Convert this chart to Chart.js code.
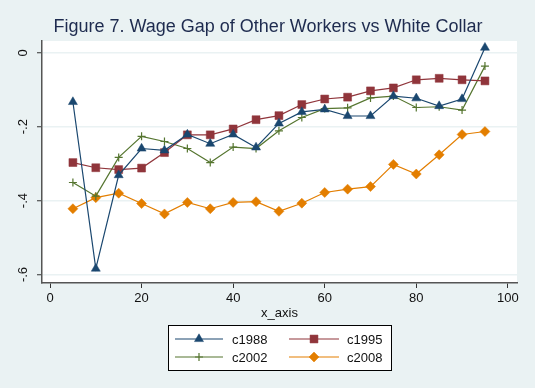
<!DOCTYPE html>
<html><head><meta charset="utf-8">
<script src="https://cdn.jsdelivr.net/npm/chart.js@4/dist/chart.umd.min.js"></script>
<style>html,body{margin:0;padding:0;background:#EAF2F3;}#wrap{width:535px;height:388px;}</style>
</head><body><div id="wrap"><canvas id="c" width="535" height="388"></canvas></div>
<script>
const xValues = [5,10,15,20,25,30,35,40,45,50,55,60,65,70,75,80,85,90,95];
const c1988 = [-0.133,-0.584,-0.331,-0.259,-0.264,-0.221,-0.246,-0.221,-0.256,-0.191,-0.160,-0.153,-0.171,-0.171,-0.117,-0.123,-0.144,-0.125,0.014];
const c1995 = [-0.297,-0.311,-0.316,-0.312,-0.270,-0.222,-0.222,-0.206,-0.181,-0.170,-0.140,-0.125,-0.120,-0.103,-0.095,-0.073,-0.069,-0.073,-0.076];
const c2002 = [-0.351,-0.388,-0.283,-0.226,-0.240,-0.259,-0.297,-0.255,-0.259,-0.211,-0.175,-0.151,-0.149,-0.122,-0.117,-0.148,-0.146,-0.155,-0.036];
const c2008 = [-0.422,-0.392,-0.380,-0.408,-0.436,-0.405,-0.422,-0.405,-0.403,-0.429,-0.407,-0.378,-0.369,-0.362,-0.302,-0.328,-0.276,-0.221,-0.213];
const seriesNames = ['c1988','c1995','c2002','c2008'];
const yTicks = [-0.6,-0.4,-0.2,0];
const yTickLabels = ['-.6','-.4','-.2','0'];
const xTicks = [0,20,40,60,80,100];
const chartTitle = 'Figure 7. Wage Gap of Other Workers vs White Collar';
const xAxisTitle = 'x_axis';

const FONT = '"Liberation Sans", Arial, sans-serif';
const seriesValues = [c1988,c1995,c2002,c2008];
const styles = [
  {color:'#1A476F', point:'triangle', radius:5.2},
  {color:'#90353B', point:'rect', radius:5.6},
  {color:'#55752F', point:'cross', radius:4},
  {color:'#E37E00', point:'rectRot', radius:5}
];

const datasets = seriesNames.map((name,i)=>({
  label: name,
  data: xValues.map((x,j)=>({x:x, y:seriesValues[i][j]})),
  borderColor: styles[i].color,
  backgroundColor: styles[i].color,
  borderWidth: 1.2,
  pointStyle: styles[i].point,
  pointRadius: styles[i].radius,
  pointBorderWidth: styles[i].point==='cross' ? 1.2 : 0.5,
  pointBorderColor: styles[i].color,
  pointBackgroundColor: styles[i].color,
  tension: 0,
  fill: false
}));

function drawMarker(ctx, st, x, y){
  ctx.save();
  ctx.fillStyle = st.color; ctx.strokeStyle = st.color;
  ctx.lineWidth = st.point==='cross'?1.2:0.5;
  if (Chart.helpers && Chart.helpers.drawPoint) {
    Chart.helpers.drawPoint(ctx, {pointStyle:st.point, rotation:0, radius:st.radius, borderWidth:ctx.lineWidth}, x, y);
  }
  ctx.restore();
}

const deco = {
  id:'deco',
  beforeDraw(chart){
    const ctx = chart.ctx, a = chart.chartArea;
    ctx.save();
    ctx.fillStyle = '#EAF2F3'; ctx.fillRect(0,0,chart.width,chart.height);
    ctx.fillStyle = '#FFFFFF'; ctx.fillRect(a.left, a.top, a.right-a.left, a.bottom-a.top);
    ctx.restore();
  },
  afterDraw(chart){
    const ctx = chart.ctx, a = chart.chartArea, ys = chart.scales.y;
    ctx.save();
    // title
    ctx.fillStyle = '#1E2B4F';
    ctx.font = '18px ' + FONT;
    ctx.textAlign = 'center'; ctx.textBaseline = 'middle';
    ctx.fillText(chartTitle, 268, 27);
    // y tick labels rotated
    ctx.fillStyle = '#111';
    ctx.font = '13px ' + FONT;
    yTicks.forEach((v,i)=>{
      const py = ys.getPixelForValue(v);
      ctx.save(); ctx.translate(23, py); ctx.rotate(-Math.PI/2);
      ctx.textAlign='center'; ctx.textBaseline='middle';
      ctx.fillText(yTickLabels[i], 0, 0);
      ctx.restore();
    });
    // x axis title
    ctx.textAlign='center'; ctx.textBaseline='middle';
    ctx.fillText(xAxisTitle, (a.left+a.right)/2, 313);
    // legend
    const bx=168.5, by=325.5, bw=223, bh=45;
    ctx.fillStyle='#FFFFFF'; ctx.fillRect(bx,by,bw,bh);
    ctx.strokeStyle='#000'; ctx.lineWidth=1; ctx.strokeRect(bx,by,bw,bh);
    const cols=[{x0:175,x1:223,tx:232},{x0:289,x1:339,tx:347}];
    const rows=[339,357];
    seriesNames.forEach((n,i)=>{
      const c=cols[i%2], r=rows[Math.floor(i/2)], st=styles[i];
      ctx.strokeStyle=st.color; ctx.lineWidth=1.2;
      ctx.beginPath(); ctx.moveTo(c.x0,r); ctx.lineTo(c.x1,r); ctx.stroke();
      drawMarker(ctx, st, (c.x0+c.x1)/2, r);
      ctx.fillStyle='#111'; ctx.font='13px '+FONT; ctx.textAlign='left'; ctx.textBaseline='middle';
      ctx.fillText(n, c.tx, r+1);
    });
    ctx.restore();
  }
};

new Chart(document.getElementById('c'), {
  type:'line',
  data:{datasets},
  options:{
    responsive:false, animation:false, devicePixelRatio:1,
    layout:{padding:{left:0,right:18,top:41,bottom:0}},
    plugins:{legend:{display:false}, title:{display:false}, tooltip:{enabled:false}},
    scales:{
      x:{
        type:'linear', min:-1.75, max:102,
        afterBuildTicks(s){ s.ticks = xTicks.map(v=>({value:v})); },
        afterFit(s){ s.height = 105; },
        grid:{display:true, drawOnChartArea:false, drawTicks:true, tickLength:5, tickColor:'#333', tickWidth:1},
        border:{display:true, color:'#555', width:1.5},
        ticks:{color:'#111', font:{family:FONT, size:13}, padding:3, maxRotation:0, minRotation:0, callback:v=>String(v)}
      },
      y:{
        type:'linear', min:-0.623, max:0.032,
        afterBuildTicks(s){ s.ticks = yTicks.map(v=>({value:v})); },
        afterFit(s){ s.width = 42; },
        grid:{display:true, drawOnChartArea:true, color:'#EAF2F3', lineWidth:1.5, drawTicks:true, tickLength:5, tickColor:'#333', tickWidth:1},
        border:{display:true, color:'#555', width:1.5},
        ticks:{display:false}
      }
    }
  },
  plugins:[deco]
});
</script></body></html>
